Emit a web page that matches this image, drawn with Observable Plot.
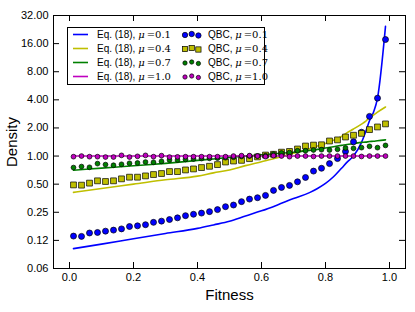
<!DOCTYPE html>
<html><head><meta charset="utf-8">
<script src="https://cdn.jsdelivr.net/npm/d3@7"></script>
<script src="https://cdn.jsdelivr.net/npm/@observablehq/plot@0.6"></script>
<style>
html,body{margin:0;padding:0;background:#fff;}
#chart{width:415px;height:312px;}
</style></head><body><div id="chart"></div>
<script>
// ---- data ----
const binX = [0.0125,0.0375,0.0625,0.0875,0.1125,0.1375,0.1625,0.1875,0.2125,0.2375,
              0.2625,0.2875,0.3125,0.3375,0.3625,0.3875,0.4125,0.4375,0.4625,0.4875,
              0.5125,0.5375,0.5625,0.5875,0.6125,0.6375,0.6625,0.6875,0.7125,0.7375,
              0.7625,0.7875,0.8125,0.8375,0.8625,0.8875,0.9125,0.9375,0.9625,0.9875];
const qbc01 = [0.139,0.138,0.150,0.152,0.157,0.161,0.166,0.176,0.179,0.184,
               0.195,0.201,0.209,0.218,0.230,0.238,0.245,0.254,0.267,0.287,
               0.299,0.325,0.346,0.358,0.379,0.429,0.461,0.485,0.53,0.59,
               0.69,0.74,0.83,0.94,1.12,1.42,1.80,2.66,4.17,17.7];
const qbc04 = [0.491,0.488,0.513,0.543,0.534,0.543,0.570,0.594,0.594,0.613,
               0.634,0.650,0.682,0.682,0.710,0.728,0.753,0.777,0.81,0.864,
               0.885,0.90,0.938,0.98,1.025,1.045,1.10,1.12,1.19,1.28,
               1.31,1.32,1.45,1.49,1.60,1.67,1.75,1.92,2.05,2.21];
const qbc07 = [0.753,0.772,0.758,0.830,0.810,0.797,0.816,0.836,0.843,0.863,
               0.857,0.878,0.907,0.907,0.92,0.93,0.94,0.945,0.95,0.96,
               0.97,0.99,1.0,1.0,1.01,1.05,1.08,1.09,1.14,1.14,
               1.16,1.17,1.16,1.18,1.22,1.21,1.23,1.27,1.23,1.30];
const qbc10 = [0.985,1.0,0.985,0.985,0.976,0.976,1.017,0.976,0.993,1.017,
               0.985,1.01,0.976,0.98,0.985,0.985,0.985,0.985,0.985,0.985,
               1.0,1.01,1.01,1.0,0.985,1.01,1.0,0.985,1.0,1.0,
               0.99,1.0,1.0,1.0,1.0,1.0,0.99,1.0,1.0,1.0];

const eqX  = [0.0125,0.1,0.2,0.3,0.4,0.45,0.5,0.55,0.6,0.65,0.7,0.75,0.775,0.8,0.825,0.85,0.8675,0.8875,0.9125,0.925,0.9375,0.95,0.9625,0.9875];
const eq01 = [0.102,0.114,0.130,0.148,0.168,0.183,0.20,0.228,0.259,0.30,0.351,0.406,0.45,0.51,0.60,0.74,0.86,1.0,1.40,1.80,2.39,2.95,4.17,24.5];
const eq04 = [0.408,0.45,0.50,0.557,0.61,0.66,0.71,0.79,0.87,0.96,1.07,1.2,1.28,1.36,1.48,1.62,1.78,1.95,2.2,2.35,2.6,2.75,2.95,3.35];
const eq07 = [0.705,0.742,0.787,0.835,0.898,0.93,0.969,1.0,1.03,1.065,1.10,1.15,1.18,1.22,1.26,1.30,1.33,1.36,1.40,1.41,1.43,1.44,1.46,1.49];
const eq10 = [1.0,1.0,1.0,1.0,1.0,1.0,1.0,1.0,1.0,1.0,1.0,1.0,1.0,1.0,1.0,1.0,1.0,1.0,1.0,1.0,1.0,1.0,1.0,1.0];

const xTicks = [0, 0.2, 0.4, 0.6, 0.8, 1.0];
const xTickLabels = ["0.0","0.2","0.4","0.6","0.8","1.0"];
const yTicks = [0.0625, 0.125, 0.25, 0.5, 1, 2, 4, 8, 16, 32];
const yTickLabels = ["0.06","0.12","0.25","0.50","1.00","2.00","4.00","8.00","16.00","32.00"];

const muLabels = ["0.1","0.4","0.7","1.0"];
const colors = ["#0000ff","#bfbf00","#008000","#bf00bf"];
const symbols = ["circle","square","circle","circle"];
const dotR = [3.0, 3.3, 2.4, 2.4];

// ---- build ----
const W = 415, H = 312;
const mTop = 15, mRight = 10, mBottom = 44, mLeft = 53;
const plotH = H - mTop - mBottom, plotW = W - mLeft - mRight;
const font = "'Liberation Sans', Arial, Helvetica, sans-serif";
const serif = "'DejaVu Serif', 'Liberation Serif', serif";

const eqSeries = [eq01, eq04, eq07, eq10];
const qbcSeries = [qbc01, qbc04, qbc07, qbc10];

const lineMarks = eqSeries.map((vals, k) =>
  Plot.line(eqX.map((x, i) => ({x, y: vals[i]})), {x: "x", y: "y", stroke: colors[k], strokeWidth: 1.6, curve: "monotone-x"}));
const dotMarks = qbcSeries.map((vals, k) =>
  Plot.dot(binX.map((x, i) => ({x, y: vals[i]})), {x: "x", y: "y", fill: colors[k], stroke: "black",
    strokeWidth: 0.7, r: dotR[k], symbol: symbols[k]}));

const chart = Plot.plot({
  width: W, height: H,
  marginTop: mTop, marginRight: mRight, marginBottom: mBottom, marginLeft: mLeft,
  style: {fontFamily: font, fontSize: "11px", background: "white", color: "black"},
  x: {domain: [-0.05, 1.05]},
  y: {type: "log", base: 2, domain: [0.0625, 32]},
  marks: [
    ...lineMarks,
    ...dotMarks,
    Plot.frame({stroke: "black", strokeWidth: 1}),
    Plot.tickX(xTicks, {x: d => d, insetTop: plotH - 6, stroke: "black"}),
    Plot.tickX(xTicks, {x: d => d, insetBottom: plotH - 6, stroke: "black"}),
    Plot.tickY(yTicks, {y: d => d, insetRight: plotW - 6, stroke: "black"}),
    Plot.tickY(yTicks, {y: d => d, insetLeft: plotW - 6, stroke: "black"}),
    Plot.axisX(xTicks, {tickSize: 0, tickPadding: 5, fontSize: 11, label: null,
      tickFormat: d => xTickLabels[xTicks.indexOf(d)]}),
    Plot.axisY(yTicks, {tickSize: 0, tickPadding: 5, fontSize: 11, label: null,
      tickFormat: d => yTickLabels[yTicks.indexOf(d)]}),
    Plot.text(["Fitness"], {frameAnchor: "bottom", dy: 27, fontSize: 15, lineAnchor: "middle", textAnchor: "middle"}),
    Plot.text(["Density"], {frameAnchor: "left", dx: -41, rotate: -90, fontSize: 15, lineAnchor: "middle", textAnchor: "middle"})
  ]
});
document.getElementById("chart").appendChild(chart);

// ---- legend (inside the plot, upper left) ----
const svg = d3.select(chart);
const lg = svg.append("g")
  .style("font-family", font).style("font-size", "10px")
  .attr("text-anchor", "start");
lg.append("rect").attr("x", 67.5).attr("y", 27.5).attr("width", 197).attr("height", 57)
  .style("fill", "white").style("stroke", "black").style("stroke-width", "1px");
const markOff = [0.5, -0.5, 1.0];
muLabels.forEach((mu, i) => {
  const yy = 34.5 + 14 * i;
  lg.append("line").attr("x1", 73).attr("x2", 88).attr("y1", yy).attr("y2", yy)
    .style("stroke", colors[i]).style("stroke-width", "1.6px");
  const t1 = lg.append("text").attr("x", 97).attr("y", yy).attr("dy", "0.35em")
    .style("text-anchor", "start").style("fill", "black");
  t1.append("tspan").text("Eq. (18), ");
  t1.append("tspan").style("font-family", serif).style("font-style", "italic").text("μ");
  t1.append("tspan").style("font-family", serif).text("\u2009=" + mu);
  [185, 191.7, 198.4].forEach((mx, j) => {
    const my = yy + markOff[j];
    if (symbols[i] === "square") {
      const s = dotR[i] * 1.6;
      lg.append("rect").attr("x", mx - s / 2).attr("y", my - s / 2).attr("width", s).attr("height", s)
        .style("fill", colors[i]).style("stroke", "black").style("stroke-width", "0.7px");
    } else {
      lg.append("circle").attr("cx", mx).attr("cy", my).attr("r", dotR[i] * 0.9)
        .style("fill", colors[i]).style("stroke", "black").style("stroke-width", "0.7px");
    }
  });
  const t2 = lg.append("text").attr("x", 208).attr("y", yy).attr("dy", "0.35em")
    .style("text-anchor", "start").style("fill", "black");
  t2.append("tspan").text("QBC, ");
  t2.append("tspan").style("font-family", serif).style("font-style", "italic").text("μ");
  t2.append("tspan").style("font-family", serif).text("\u2009=" + mu);
});
</script>
</body></html>
